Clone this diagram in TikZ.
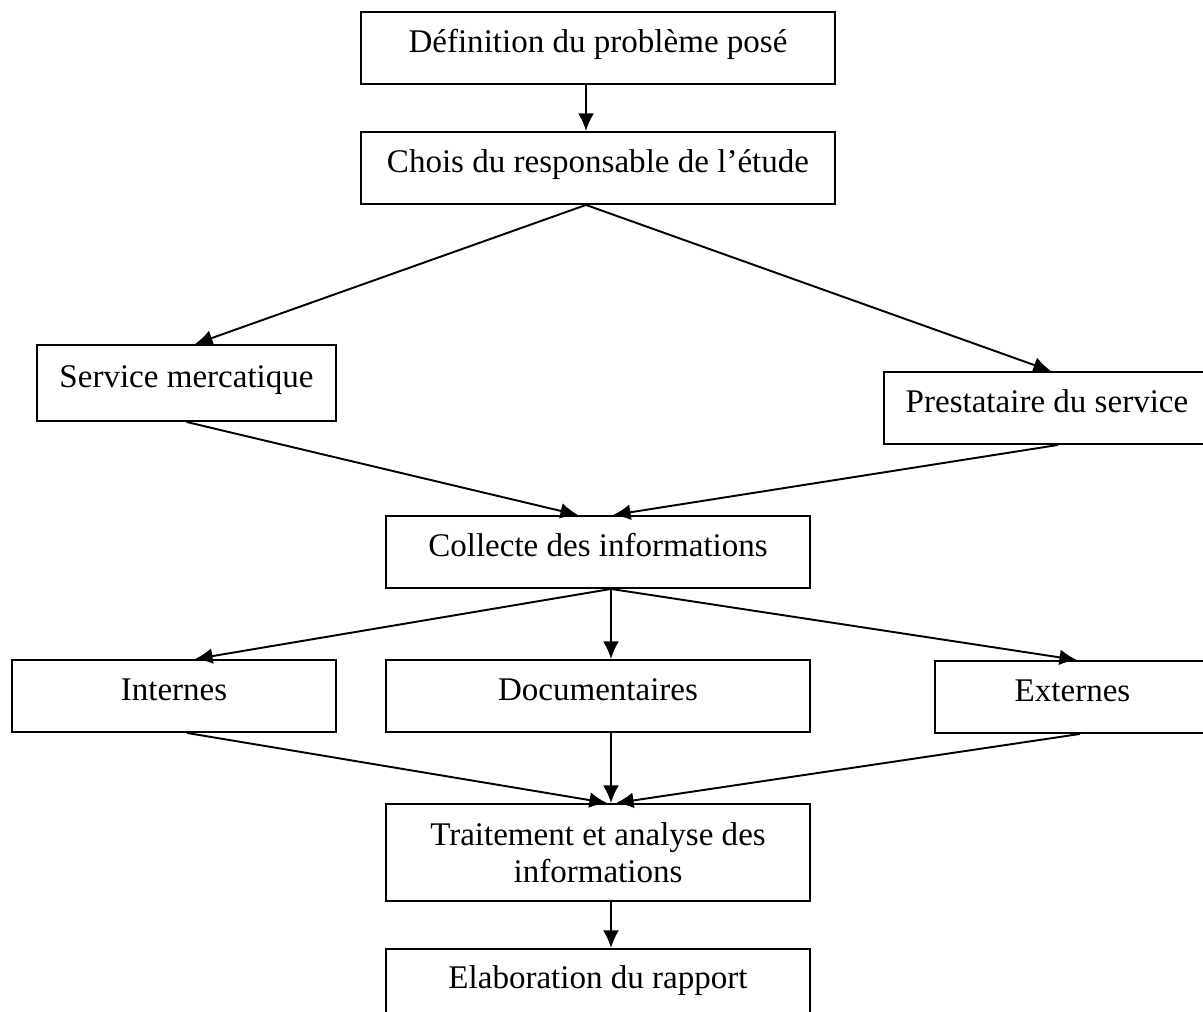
\documentclass[tikz,border=0pt]{standalone}
\usepackage{fontspec}
\setmainfont{Liberation Serif}
\usetikzlibrary{arrows.meta}
\begin{document}
\begin{tikzpicture}[>={Latex[length=10pt,width=9pt]}, line width=1.1pt,
  box/.style={draw, inner sep=0pt, font=\fontsize{18.8}{21}\selectfont},
  oneline/.style={text height=13pt, text depth=8pt}]
\useasboundingbox (0,0) rectangle (24.06,20.24);
\node (def) at (11.96,19.28)[box, oneline, minimum width=9.48cm, minimum height=1.44cm]{Définition du problème posé};
\node (chois) at (11.96,16.88)[box, oneline, minimum width=9.48cm, minimum height=1.44cm]{Chois du responsable de l’étude};
\node (service) at (3.73,12.58)[box, oneline, minimum width=5.98cm, minimum height=1.52cm]{Service mercatique};
\node (presta) at (20.94,12.08)[box, oneline, minimum width=6.52cm, minimum height=1.44cm]{Prestataire du service};
\node (collecte) at (11.96,9.2)[box, oneline, minimum width=8.48cm, minimum height=1.44cm]{Collecte des informations};
\node (internes) at (3.48,6.32)[box, oneline, minimum width=6.48cm, minimum height=1.44cm]{Internes};
\node (docs) at (11.96,6.32)[box, oneline, minimum width=8.48cm, minimum height=1.44cm]{Documentaires};
\node (externes) at (21.45,6.30)[box, oneline, minimum width=5.5cm, minimum height=1.44cm]{Externes};
\node (traitement) at (11.96,3.19)[box, align=center, minimum width=8.48cm, minimum height=1.94cm]{Traitement et analyse des\\informations};
\node (elab) at (11.96,0.55)[box, oneline, minimum width=8.48cm, minimum height=1.42cm]{Elaboration du rapport};
\draw[->]([xshift=-0.24cm]def.south)--([xshift=-0.24cm]chois.north);
\draw[->]([xshift=-0.24cm]chois.south)--([xshift=0.17cm]service.north);
\draw[->]([xshift=-0.24cm]chois.south)--([xshift=0.08cm]presta.north);
\draw[->](service.south)--([xshift=-0.4cm]collecte.north);
\draw[->]([xshift=0.22cm]presta.south)--([xshift=0.3cm]collecte.north);
\draw[->]([xshift=0.26cm]collecte.south)--([xshift=0.42cm]internes.north);
\draw[->]([xshift=0.26cm]collecte.south)--([xshift=0.26cm]docs.north);
\draw[->]([xshift=0.26cm]collecte.south)--([xshift=0.09cm]externes.north);
\draw[->]([xshift=0.26cm]internes.south)--([xshift=0.18cm]traitement.north);
\draw[->]([xshift=0.26cm]docs.south)--([xshift=0.26cm]traitement.north);
\draw[->]([xshift=0.15cm]externes.south)--([xshift=0.36cm]traitement.north);
\draw[->]([xshift=0.26cm]traitement.south)--([xshift=0.26cm]elab.north);
\end{tikzpicture}
\end{document}
